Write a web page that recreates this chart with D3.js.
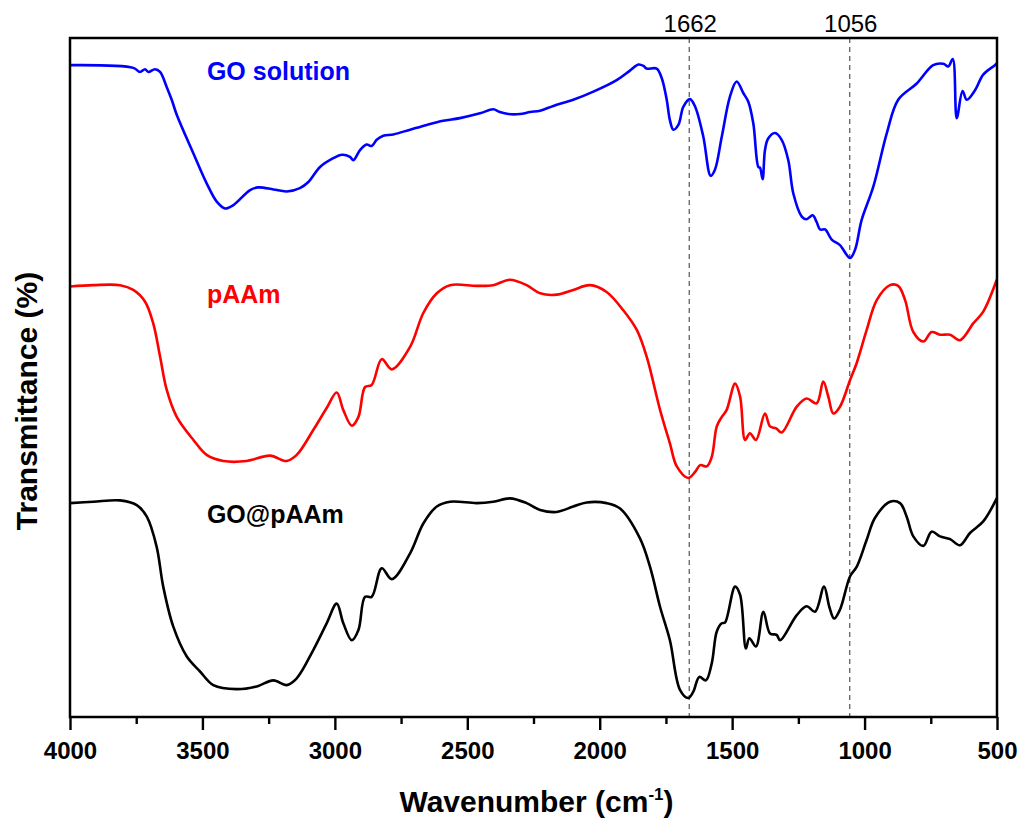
<!DOCTYPE html>
<html lang="en">
<head>
<meta charset="UTF-8">
<title>FTIR spectra</title>
<script src="https://cdn.jsdelivr.net/npm/d3@7"></script>
<style>
body { margin: 0; background: #fff; }
text { font-family: "Liberation Sans", Arial, sans-serif; fill: black; }
</style>
</head>
<body>
<div id="chart"></div>
<script>

// ---- data (wavenumber in cm-1, transmittance in arbitrary %, curves stacked) ----
const goWn = [4000,3761,3736,3717,3704,3679,3660,3635,3616,3597,3534,3484,3446,3415,3383,3320,3289,3232,3182,3132,3100,3056,3006,2974,2943,2930,2905,2880,2861,2842,2817,2779,2716,2653,2591,2528,2452,2402,2377,2345,2301,2263,2225,2175,2100,2024,1936,1886,1854,1835,1823,1785,1766,1747,1735,1722,1703,1684,1659,1640,1609,1581,1565,1539,1508,1483,1458,1439,1420,1401,1395,1385,1376,1364,1338,1313,1288,1269,1237,1219,1196,1181,1168,1149,1124,1093,1055,1036,1011,967,916,873,803,741,703,684,667,652,630,614,583,552,508,500]
const goT = [96.0,95.6,95.0,95.4,95.0,95.4,95.0,92.8,90.9,88.7,83.0,78.6,75.9,74.9,75.4,77.6,78.0,77.7,77.4,77.9,78.8,81.0,82.3,82.8,82.5,82.0,83.5,84.3,84.1,85.0,85.6,85.8,86.5,87.2,87.8,88.2,88.9,89.5,89.1,88.8,88.8,89.1,89.3,90.0,90.9,92.1,93.8,95.2,96.1,95.9,95.5,95.5,94.1,90.9,87.9,86.5,87.2,89.9,91.0,89.9,85.5,79.7,80.6,85.5,91.4,93.6,91.9,90.6,87.4,81.0,80.9,79.2,83.5,85.2,86.0,85.0,82.0,77.1,73.7,73.3,73.9,72.9,71.8,71.8,70.3,69.5,67.6,68.8,73.2,78.1,86.0,90.9,93.3,96.0,96.2,95.8,96.9,88.2,92.2,90.9,92.3,94.6,96.0,96.3]

const paamWn = [4000,3912,3811,3761,3717,3686,3660,3635,3597,3534,3484,3421,3333,3245,3182,3144,3081,3031,2993,2968,2936,2911,2886,2861,2823,2785,2716,2666,2615,2565,2464,2402,2339,2276,2225,2162,2100,2037,1974,1911,1860,1823,1772,1735,1709,1666,1640,1621,1596,1577,1558,1539,1521,1489,1470,1451,1433,1410,1376,1357,1334,1313,1256,1219,1181,1156,1137,1118,1093,1055,1030,992,954,904,873,847,816,778,747,715,677,640,589,552,501]
const paamT = [63.4,63.6,63.6,62.9,61.2,58.0,53.1,48.2,44.2,40.8,38.6,37.7,37.7,38.5,37.7,38.6,42.3,45.5,47.8,45.2,42.9,44.2,48.6,48.9,52.7,51.2,54.5,59.5,62.4,63.6,63.5,63.6,64.4,63.6,62.4,62.2,62.9,63.6,62.6,59.9,57.0,53.1,45.2,40.3,36.9,35.2,36.1,37.1,36.9,38.3,42.8,44.2,45.2,49.1,47.2,40.8,41.8,40.8,44.7,42.8,42.5,41.9,45.7,46.9,46.2,49.4,47.2,44.7,45.7,49.6,52.1,57.0,61.4,63.6,63.5,61.4,56.7,55.3,56.7,56.3,56.3,55.5,58.0,59.7,64.4]

const gopaamWn = [4000,3912,3811,3748,3710,3673,3648,3610,3559,3509,3459,3371,3295,3232,3182,3144,3081,3031,2993,2968,2936,2911,2886,2861,2823,2785,2716,2666,2615,2565,2464,2402,2339,2276,2225,2162,2100,2049,1974,1923,1848,1810,1772,1735,1697,1666,1647,1624,1599,1577,1558,1539,1527,1489,1470,1448,1435,1410,1382,1357,1332,1319,1256,1219,1187,1153,1133,1115,1093,1055,1030,992,961,904,866,841,816,778,747,715,677,640,602,552,501]
const gopaamT = [31.5,31.7,31.9,31.2,29.5,25.1,19.2,13.3,8.9,6.7,4.7,4.1,4.5,5.4,4.7,5.7,9.9,13.8,16.7,13.8,11.3,12.8,17.7,17.7,21.9,20.3,24.1,28.5,31.0,31.7,31.5,31.7,32.2,31.5,30.5,30.2,31.0,31.6,31.5,30.7,26.3,22.1,16.2,11.3,4.0,2.8,3.7,5.9,5.4,7.9,12.6,13.8,13.9,19.2,18.0,10.1,11.6,10.4,15.5,12.3,12.1,11.3,15.0,16.3,15.5,19.2,16.2,14.5,15.8,20.7,22.1,26.1,29.3,31.7,31.5,29.5,26.6,25.2,27.3,26.6,26.2,25.3,27.1,28.8,32.2]

const seriesNames = ['GO solution', 'pAAm', 'GO@pAAm']
const seriesColors = ['#0000ff', '#ff0000', '#000000']
const labelWn = 3483
const labelT = [93.8, 61.0, 28.6]

const majorTicks = [4000, 3500, 3000, 2500, 2000, 1500, 1000, 500]
const minorTicks = [3750, 3250, 2750, 2250, 1750, 1250, 750]
const markerWn = [1662, 1056]

// ---- layout ----
const W = 1018, H = 823
const margin = {top: 38, right: 21, bottom: 106, left: 70}
const w = W - margin.left - margin.right
const h = H - margin.top - margin.bottom
const font = '"Liberation Sans", Arial, sans-serif'

let svg = d3.select('#chart').append('svg')
  .attr('width', W).attr('height', H)
let g = svg.append('g')
  .attr('transform', 'translate(' + margin.left + ',' + margin.top + ')')

let x = d3.scaleLinear().domain([4000, 500]).range([0, w])
let y = d3.scaleLinear().domain([0, 100]).range([h, 0])

function drawMarkers() {
  markerWn.forEach(function(wn) {
    g.append('line')
      .attr('x1', x(wn)).attr('x2', x(wn))
      .attr('y1', 0).attr('y2', h)
      .attr('stroke', '#555').attr('stroke-width', 1.2)
      .attr('stroke-dasharray', '5,4')
    g.append('text')
      .attr('x', x(wn) + 1).attr('y', -6)
      .attr('text-anchor', 'middle')
      .style('font-size', '24px')
      .text(wn)
  })
}

function drawSeries() {
  let series = [
    goWn.map((d, i) => ({wn: d, t: goT[i]})),
    paamWn.map((d, i) => ({wn: d, t: paamT[i]})),
    gopaamWn.map((d, i) => ({wn: d, t: gopaamT[i]}))
  ]
  let line = d3.line()
    .x(d => x(d.wn))
    .y(d => y(d.t))
    .curve(d3.curveCatmullRom.alpha(0.5))

  series.forEach(function(s, i) {
    g.append('path')
      .datum(s)
      .attr('fill', 'none')
      .attr('stroke', seriesColors[i])
      .attr('stroke-width', 2.6)
      .attr('stroke-linejoin', 'round')
      .attr('d', line)
    g.append('text')
      .attr('x', x(labelWn)).attr('y', y(labelT[i]))
      .style('font-size', '25px').style('font-weight', 'bold')
      .style('fill', seriesColors[i])
      .text(seriesNames[i])
  })
}

function drawAxes() {
  // minor ticks
  let minor = g.append('g')
    .attr('transform', 'translate(0,' + h + ')')
    .call(d3.axisBottom(x).tickValues(minorTicks).tickSize(7).tickFormat(''))
  minor.select('.domain').remove()
  minor.selectAll('line').attr('stroke-width', 2.4)

  let major = g.append('g')
    .attr('transform', 'translate(0,' + h + ')')
    .call(d3.axisBottom(x).tickValues(majorTicks).tickSize(13).tickPadding(12)
      .tickFormat(d3.format('d')))
  major.select('.domain').remove()
  major.selectAll('line').attr('stroke-width', 2.4)
  major.selectAll('text')
    .style('font-family', font)
    .style('font-size', '24px')
    .style('font-weight', 'bold')

  // frame
  g.append('rect')
    .attr('x', 0).attr('y', 0).attr('width', w).attr('height', h)
    .attr('fill', 'none').attr('stroke', 'black').attr('stroke-width', 2.5)

  // axis titles
  let xt = svg.append('text')
    .attr('x', margin.left + w / 2 + 3).attr('y', 812)
    .attr('text-anchor', 'middle')
    .style('font-size', '30px').style('font-weight', 'bold')
  xt.append('tspan').text('Wavenumber (cm')
  xt.append('tspan').attr('dy', -12).style('font-size', '17px').text('-1')
  xt.append('tspan').attr('dy', 12).text(')')

  svg.append('text')
    .attr('transform', 'translate(37,' + 401 + ') rotate(-90)')
    .attr('text-anchor', 'middle')
    .style('font-size', '30px').style('font-weight', 'bold')
    .text('Transmittance (%)')
}

drawMarkers()
drawSeries()
drawAxes()

</script>
</body>
</html>
